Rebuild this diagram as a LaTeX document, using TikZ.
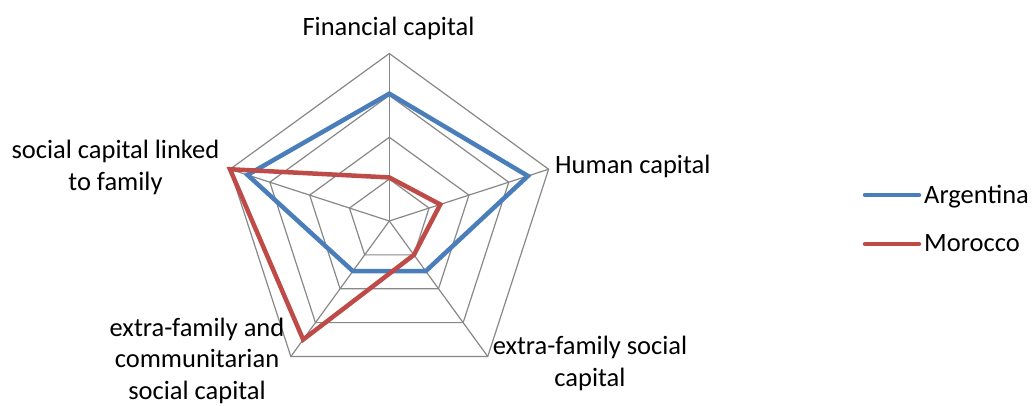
\documentclass[tikz,border=0pt]{standalone}
\usepackage{fontspec}
\setmainfont{Carlito}
\definecolor{argblue}{HTML}{4A7EBB}
\definecolor{morred}{HTML}{BE4B48}
\definecolor{gridgray}{HTML}{888888}
\newcommand{\chartrad}{167.5}
\begin{document}
\begin{tikzpicture}[x=1pt,y=1pt,
        grid/.style={gridgray,line width=1.2pt},
        series/.style={line width=4.5pt,line join=miter},
        lbl/.style={font=\fontsize{26.5}{31.5}\selectfont,align=center,inner sep=0pt}]
    \useasboundingbox (-389.3,-184) rectangle (642.7,221);
    % rings and spokes
    \foreach \r in {0.25,0.5,0.75,1}
        \draw[grid] (90:\r*\chartrad) -- (18:\r*\chartrad) -- (-54:\r*\chartrad) -- (-126:\r*\chartrad) -- (162:\r*\chartrad) -- cycle;
    \foreach \a in {90,18,-54,-126,162}
        \draw[grid] (0,0) -- (\a:\chartrad);
    % series
    \draw[series,argblue] (90:0.76*\chartrad) -- (18:0.87*\chartrad) -- (-54:0.37*\chartrad) -- (-126:0.37*\chartrad) -- (162:0.89*\chartrad) -- cycle;
    \draw[series,morred] (90:0.26*\chartrad) -- (18:0.32*\chartrad) -- (-54:0.25*\chartrad) -- (-126:0.875*\chartrad) -- (162:\chartrad) -- cycle;
    % axis labels
    \node[lbl,anchor=base] (fin) at (-0.8,185.3) {Financial capital};
    \node[lbl,anchor=base west] (hum) at (165.7,48) {Human capital};
    \node[lbl,anchor=base] (fam) at (-273.8,31) {social capital linked\\to family};
    \node[lbl,anchor=base] (comm) at (-192.3,-178) {extra-family and\\communitarian\\social capital};
    \node[lbl,anchor=base] (extra) at (200.7,-165) {extra-family social\\capital};
    % legend
    \node[lbl,anchor=base west] (arg) at (534.7,17.7) {Argentina};
    \node[lbl,anchor=base west] (mor) at (534.7,-30.7) {Morocco};
    \draw[series,argblue,line cap=round] (475.7,26) -- (529.7,26);
    \draw[series,morred,line cap=round] (475.7,-23) -- (529.7,-23);
\end{tikzpicture}
\end{document}
